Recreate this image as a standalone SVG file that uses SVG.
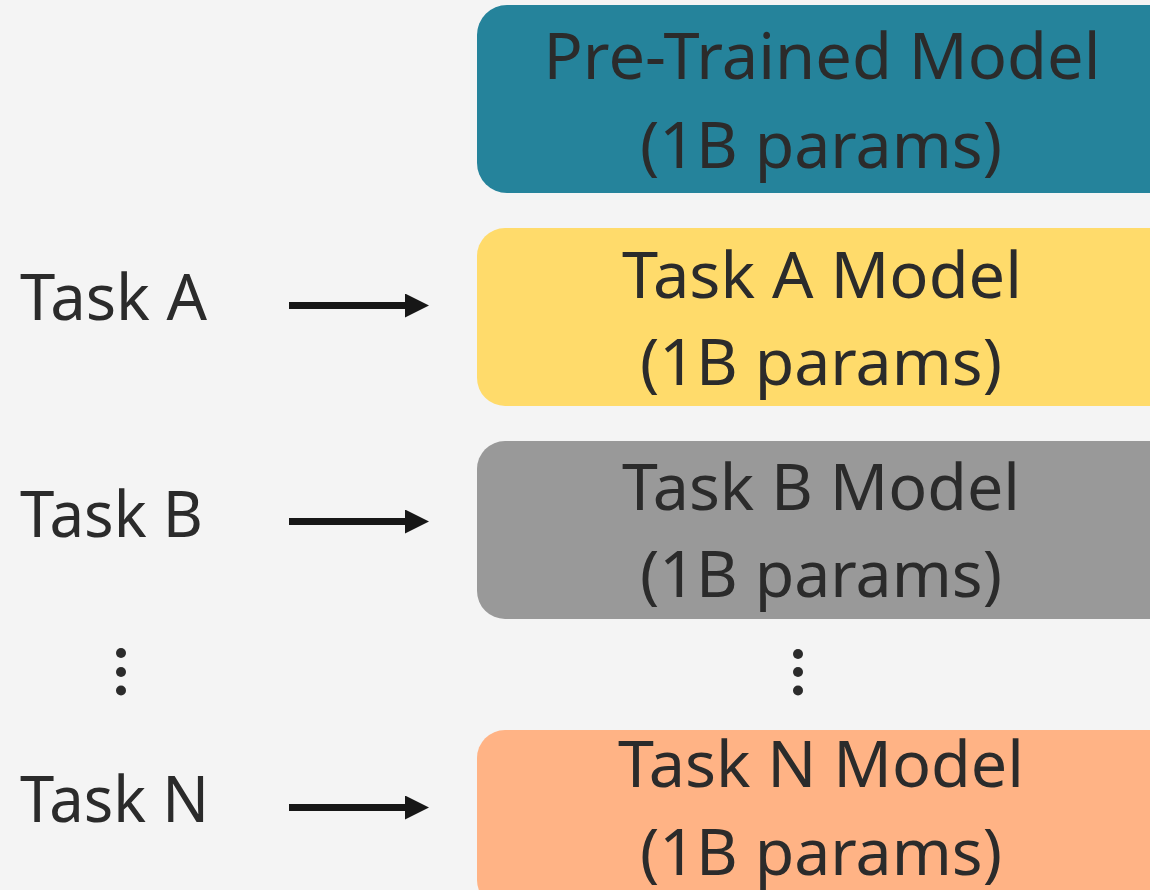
<svg xmlns="http://www.w3.org/2000/svg" width="1150" height="890" viewBox="0 0 1150 890">
<defs>
<style>
.t{font-family:"Noto Sans","Open Sans",sans-serif;font-size:64px;fill:#2b2b2b;}
.c{text-anchor:middle;}
.ln{stroke:#171717;stroke-width:7;fill:none;}
.dot{fill:#2b2b2b;}
</style>
<marker id="ah" markerUnits="userSpaceOnUse" markerWidth="24" markerHeight="24" refX="0" refY="12" orient="auto">
<path d="M0,0 L24,12 L0,24 Z" fill="#171717"/>
</marker>
</defs>
<rect width="1150" height="890" fill="#f4f4f4"/>
<g id="pretrained">
<rect x="477" y="5" width="703" height="188" rx="30" fill="#25839b"/>
<text class="t c" x="822" y="79" textLength="557" lengthAdjust="spacingAndGlyphs">Pre-Trained Model</text>
<text class="t c" x="821" y="168" textLength="362" lengthAdjust="spacingAndGlyphs">(1B params)</text>
</g>
<g id="modelA">
<rect x="477" y="228" width="703" height="178" rx="28" fill="#ffdb6b"/>
<text class="t c" x="822" y="298" textLength="400" lengthAdjust="spacingAndGlyphs">Task A Model</text>
<text class="t c" x="821" y="385" textLength="362" lengthAdjust="spacingAndGlyphs">(1B params)</text>
</g>
<g id="modelB">
<rect x="477" y="441" width="703" height="178" rx="28" fill="#999999"/>
<text class="t c" x="821" y="510" textLength="398" lengthAdjust="spacingAndGlyphs">Task B Model</text>
<text class="t c" x="821" y="597" textLength="362" lengthAdjust="spacingAndGlyphs">(1B params)</text>
</g>
<g id="modelN">
<rect x="477" y="730" width="703" height="178" rx="28" fill="#ffb385"/>
<text class="t c" x="821" y="787" textLength="406" lengthAdjust="spacingAndGlyphs">Task N Model</text>
<text class="t c" x="821" y="875" textLength="362" lengthAdjust="spacingAndGlyphs">(1B params)</text>
</g>
<g id="taskA"><text class="t" x="20" y="320" textLength="187" lengthAdjust="spacingAndGlyphs">Task A</text></g>
<g id="taskB"><text class="t" x="20" y="537" textLength="183" lengthAdjust="spacingAndGlyphs">Task B</text></g>
<g id="taskN"><text class="t" x="20" y="822" textLength="189" lengthAdjust="spacingAndGlyphs">Task N</text></g>
<g id="dotsLeft">
<circle class="dot" cx="121" cy="653" r="5"/>
<circle class="dot" cx="121" cy="672" r="5"/>
<circle class="dot" cx="121" cy="690.5" r="5"/>
</g>
<g id="dotsRight">
<circle class="dot" cx="798" cy="654" r="5"/>
<circle class="dot" cx="798" cy="672" r="5"/>
<circle class="dot" cx="798" cy="690.5" r="5"/>
</g>
<g id="connectors">
<line class="ln" x1="289" y1="305.5" x2="405" y2="305.5" marker-end="url(#ah)"/>
<line class="ln" x1="289" y1="521.5" x2="405" y2="521.5" marker-end="url(#ah)"/>
<line class="ln" x1="289" y1="807.5" x2="405" y2="807.5" marker-end="url(#ah)"/>
</g>
</svg>
